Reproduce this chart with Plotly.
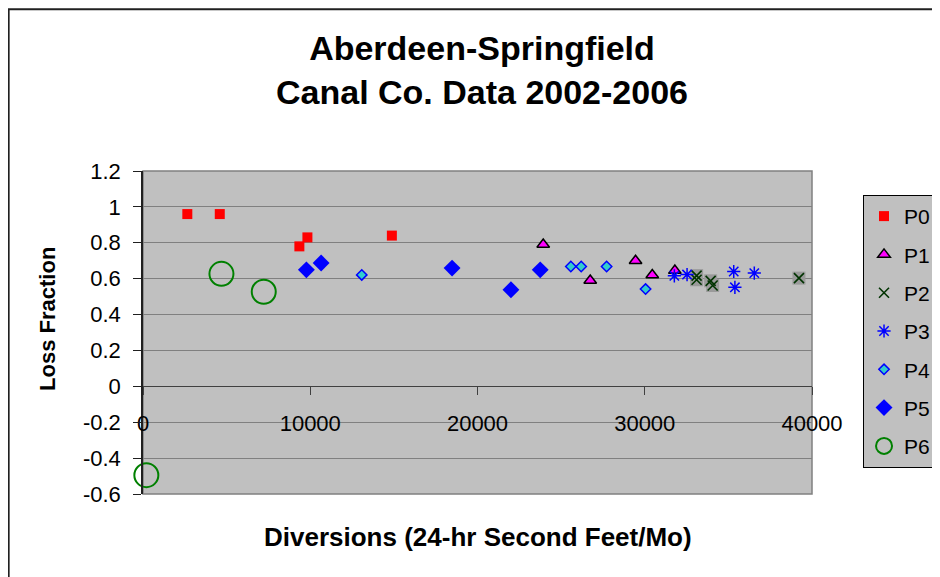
import plotly.graph_objects as go

# ---- data ----
p0_x = [2650, 4590, 9350, 9830, 14880]
p0_y = [0.96, 0.96, 0.78, 0.83, 0.84]

p1_x = [23930, 26740, 29450, 30450, 31800]
p1_y = [0.79, 0.59, 0.70, 0.62, 0.645]

p2_x = [33100, 33100, 34060, 33940, 39220]
p2_y = [0.594, 0.617, 0.562, 0.588, 0.603]

p3_x = [31770, 32530, 35320, 35390, 36550]
p3_y = [0.616, 0.623, 0.640, 0.552, 0.631]

p4_x = [13080, 25580, 26200, 27720, 30050]
p4_y = [0.621, 0.668, 0.668, 0.668, 0.542]

p5_x = [9770, 10650, 18480, 22000, 23750]
p5_y = [0.649, 0.687, 0.659, 0.538, 0.649]

p6_x = [200, 4690, 7220]
p6_y = [-0.495, 0.627, 0.527]

y_ticks = [1.2, 1.0, 0.8, 0.6, 0.4, 0.2, 0.0, -0.2, -0.4, -0.6]
y_ticktext = ["1.2", "1", "0.8", "0.6", "0.4", "0.2", "0", "-0.2", "-0.4", "-0.6"]
x_ticks = [0, 10000, 20000, 30000, 40000]
x_ticktext = ["0", "10000", "20000", "30000", "40000"]

FONT = "Arial, Liberation Sans, sans-serif"

# page body has an 8px margin, so the figure is laid out 8px in from the window corner
W, H = 932, 569
PL, PR, PT, PB = 135.3, 804.0, 163.0, 486.5   # plot area in figure pixels
PW, PH = PR - PL, PB - PT


def px_x(xw):  # window x -> paper x
    return (xw - 8 - PL) / PW


def px_y(yw):  # window y -> paper y
    return (PB - (yw - 8)) / PH


fig = go.Figure()

fig.add_trace(go.Scatter(x=p0_x, y=p0_y, mode="markers", name="P0", legendgroup="P0",
                         marker=dict(symbol="square", size=10, color="#ff0000",
                                     line=dict(width=0))))
fig.add_trace(go.Scatter(x=p1_x, y=p1_y, mode="markers", name="P1", legendgroup="P1",
                         marker=dict(symbol="triangle-up", size=11, color="#ff00ff",
                                     line=dict(width=1.5, color="#000000"))))
fig.add_trace(go.Scatter(x=p2_x, y=p2_y, mode="markers", name="P2sq", legendgroup="P2",
                         showlegend=False,
                         marker=dict(symbol="square", size=13, color="#9a9a9a",
                                     line=dict(width=0))))
fig.add_trace(go.Scatter(x=p2_x, y=p2_y, mode="markers", name="P2", legendgroup="P2",
                         marker=dict(symbol="x-thin-open", size=10, color="#003300",
                                     line=dict(width=1.6, color="#003300"))))
fig.add_trace(go.Scatter(x=p3_x, y=p3_y, mode="markers", name="P3", legendgroup="P3",
                         marker=dict(symbol="asterisk-open", size=11, color="#0000ff",
                                     line=dict(width=1.5, color="#0000ff"))))
fig.add_trace(go.Scatter(x=p4_x, y=p4_y, mode="markers", name="P4", legendgroup="P4",
                         marker=dict(symbol="diamond", size=8, color="#33cccc",
                                     line=dict(width=1.5, color="#0000ff"))))
fig.add_trace(go.Scatter(x=p5_x, y=p5_y, mode="markers", name="P5", legendgroup="P5",
                         marker=dict(symbol="diamond", size=13, color="#0000ff",
                                     line=dict(width=0))))
fig.add_trace(go.Scatter(x=p6_x, y=p6_y, mode="markers", name="P6", legendgroup="P6",
                         cliponaxis=False,
                         marker=dict(symbol="circle-open", size=24, color="#008000",
                                     line=dict(width=2, color="#008000"))))

fig.update_layout(
    width=W, height=H,
    margin=dict(l=PL, r=W - PR, t=PT, b=H - PB, autoexpand=False),
    paper_bgcolor="white",
    plot_bgcolor="#c0c0c0",
    font=dict(family=FONT, size=22, color="black"),
    title=dict(text="<b>Aberdeen-Springfield<br>Canal Co. Data 2002-2006</b>",
               x=(482 - 8) / W, xanchor="center", xref="container",
               y=1 - 52 / H, yanchor="middle", yref="container",
               font=dict(family=FONT, size=34, color="black")),
    xaxis=dict(range=[0, 40000], tickvals=x_ticks, ticktext=x_ticktext,
               showgrid=False, zeroline=False, showline=False,
               anchor="free", position=1 / 3,
               ticks="outside", ticklen=8, tickwidth=1, tickcolor="#404040",
               ticklabelstandoff=9,
               tickfont=dict(family=FONT, size=22, color="black")),
    yaxis=dict(range=[-0.6, 1.2], tickvals=y_ticks, ticktext=y_ticktext,
               showgrid=True, gridcolor="#808080", gridwidth=1,
               zeroline=True, zerolinecolor="#404040", zerolinewidth=1,
               showline=True, linecolor="#202020", linewidth=1.5,
               ticks="outside", ticklen=8, tickwidth=1, tickcolor="#202020",
               ticklabelstandoff=8,
               tickfont=dict(family=FONT, size=22, color="black")),
    legend=dict(x=px_x(863), xanchor="left",
                y=px_y(195), yanchor="top",
                bgcolor="#c0c0c0", bordercolor="#000000", borderwidth=1,
                traceorder="grouped", tracegroupgap=8,
                font=dict(family=FONT, size=21, color="black")),
    showlegend=True,
)

# plot-area border (gray) and outer chart frame
fig.add_shape(type="rect", xref="paper", yref="paper", x0=0, x1=1, y0=0, y1=1,
              line=dict(color="#808080", width=1.5), layer="below")
fig.add_shape(type="rect", xref="paper", yref="paper",
              x0=px_x(9), x1=px_x(990),
              y0=px_y(640), y1=px_y(9),
              line=dict(color="#202020", width=2), fillcolor="rgba(0,0,0,0)")

fig.add_annotation(text="<b>Loss Fraction</b>", textangle=-90,
                   xref="paper", yref="paper",
                   x=px_x(48), y=px_y(319.5),
                   xanchor="center", yanchor="middle", showarrow=False,
                   font=dict(family=FONT, size=22, color="black"))
fig.add_annotation(text="<b>Diversions (24-hr Second Feet/Mo)</b>",
                   xref="paper", yref="paper",
                   x=px_x(478), y=px_y(538),
                   xanchor="center", yanchor="middle", showarrow=False,
                   font=dict(family=FONT, size=26, color="black"))

fig.write_html("out.html")
